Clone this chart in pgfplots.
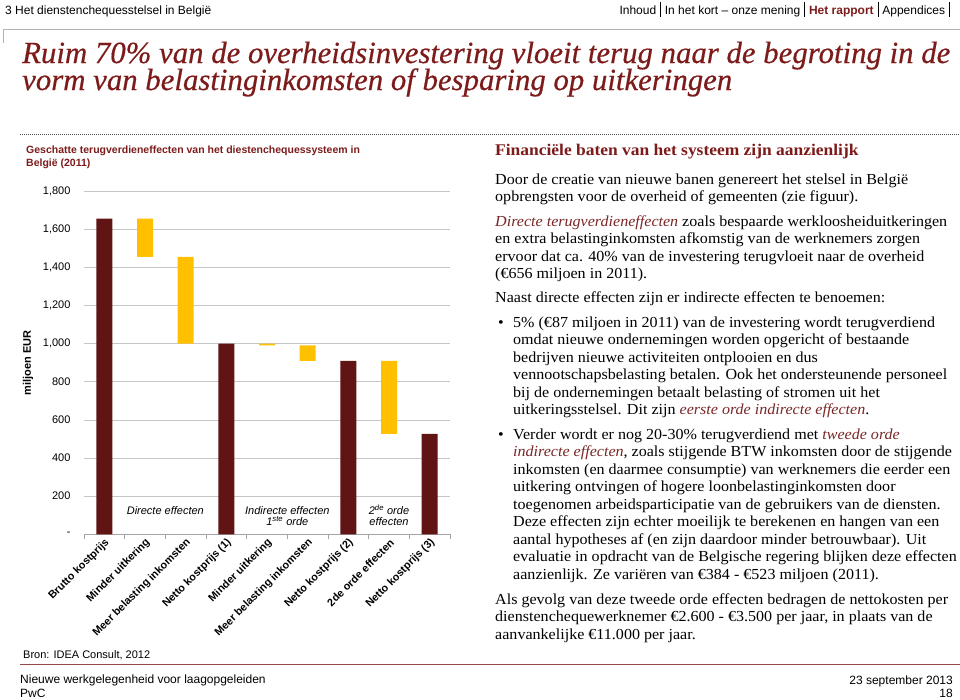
\documentclass[border=0pt]{standalone}
\usepackage{fontspec}
\setmainfont{Liberation Serif}
\setsansfont{Liberation Sans}
\newfontfamily\bodyfont[FakeStretch=1.05]{Liberation Serif}
\newfontfamily\headfont[FakeStretch=1.07]{Liberation Serif}
\newfontfamily\titlefont[FakeBold=0.5]{Liberation Serif}
\usepackage{pgfplots}
\pgfplotsset{compat=1.18}
\definecolor{pwcred}{RGB}{125,27,27}
\definecolor{barred}{RGB}{96,20,20}
\definecolor{baryellow}{RGB}{255,192,0}
\definecolor{hlred}{RGB}{122,38,38}
\newcommand{\bodyf}{\bodyfont\fontsize{15.3}{17}\selectfont}
\newcommand{\hsep}{\hspace{4pt}\rule[-3pt]{0.7pt}{15pt}\hspace{4pt}}
\newcommand{\hl}[1]{\textcolor{hlred}{\itshape #1}}
\begin{document}
\begin{tikzpicture}
\begin{scope}[x=1pt,y=-1pt,every node/.style={inner sep=0pt}]
\useasboundingbox (0,0) rectangle (960,699);
% header
\node[anchor=base west,font=\sffamily\fontsize{12}{14}\selectfont] at (5,14) {3 Het dienstenchequesstelsel in België};
\node[anchor=base east,font=\sffamily\fontsize{12}{14}\selectfont] at (950,14) {Inhoud\hsep In het kort – onze mening\hsep\textcolor{pwcred}{\bfseries Het rapport}\hsep Appendices\hsep};
\draw[gray!60,line width=0.7pt] (3,43) -- (3,29) -- (960,29);
% title
\node[anchor=base west,font=\titlefont\fontsize{30.8}{34}\selectfont\itshape,text=pwcred] at (22,63) {Ruim 70\% van de overheidsinvestering vloeit terug naar de begroting in de};
\node[anchor=base west,font=\titlefont\fontsize{30.8}{34}\selectfont\itshape,text=pwcred] at (22,90) {vorm van belastinginkomsten of besparing op uitkeringen};
% dotted line
\draw[black!70,line width=1pt,dash pattern=on 1pt off 1pt] (20,134) -- (960,134);
% chart title
\node[anchor=base west,font=\sffamily\bfseries\fontsize{10.5}{12}\selectfont,text=pwcred] at (26,153) {Geschatte terugverdieneffecten van het diestenchequessysteem in};
\node[anchor=base west,font=\sffamily\bfseries\fontsize{10.5}{12}\selectfont,text=pwcred] at (26,166) {België (2011)};
% source and footer
\node[anchor=base west,font=\sffamily\fontsize{11}{13}\selectfont] at (23,658) {Bron: IDEA Consult, 2012};
\draw[pwcred!80,line width=0.8pt] (20,664) -- (960,664);
\node[anchor=base west,font=\sffamily\fontsize{12}{14}\selectfont] at (20,683) {Nieuwe werkgelegenheid voor laagopgeleiden};
\node[anchor=base west,font=\sffamily\fontsize{12}{14}\selectfont] at (20,697) {PwC};
\node[anchor=base east,font=\sffamily\fontsize{12}{14}\selectfont] at (953,684) {23 september 2013};
\node[anchor=base east,font=\sffamily\fontsize{12}{14}\selectfont] at (953,697) {18};
% right column
\node[anchor=base west,font=\headfont\bfseries\fontsize{16.3}{18}\selectfont,text=pwcred] at (495,155) {Financiële baten van het systeem zijn aanzienlijk};
\begin{scope}[every node/.style={inner sep=0pt,anchor=base west,font=\bodyf}]
\node at (495,184) {Door de creatie van nieuwe banen genereert het stelsel in België};
\node at (495,201.5) {opbrengsten voor de overheid of gemeenten (zie figuur).};
\node at (495,226) {\hl{Directe terugverdieneffecten} zoals bespaarde werkloosheiduitkeringen};
\node at (495,243.5) {en extra belastinginkomsten afkomstig van de werknemers zorgen};
\node at (495,261) {ervoor dat ca. 40\% van de investering terugvloeit naar de overheid};
\node at (495,278) {(€656 miljoen in 2011).};
\node at (495,302) {Naast directe effecten zijn er indirecte effecten te benoemen:};
\node at (498,327) {•};
\node at (513,327) {5\% (€87 miljoen in 2011) van de investering wordt terugverdiend};
\node at (513,344.5) {omdat nieuwe ondernemingen worden opgericht of bestaande};
\node at (513,362) {bedrijven nieuwe activiteiten ontplooien en dus};
\node at (513,379.5) {vennootschapsbelasting betalen. Ook het ondersteunende personeel};
\node at (513,397) {bij de ondernemingen betaalt belasting of stromen uit het};
\node at (513,414.5) {uitkeringsstelsel. Dit zijn \hl{eerste orde indirecte effecten}.};
\node at (498,439) {•};
\node at (513,439) {Verder wordt er nog 20-30\% terugverdiend met \hl{tweede orde}};
\node at (513,456.5) {\hl{indirecte effecten}, zoals stijgende BTW inkomsten door de stijgende};
\node at (513,474) {inkomsten (en daarmee consumptie) van werknemers die eerder een};
\node at (513,491.5) {uitkering ontvingen of hogere loonbelastinginkomsten door};
\node at (513,509) {toegenomen arbeidsparticipatie van de gebruikers van de diensten.};
\node at (513,526.5) {Deze effecten zijn echter moeilijk te berekenen en hangen van een};
\node at (513,544) {aantal hypotheses af (en zijn daardoor minder betrouwbaar). Uit};
\node at (513,561.5) {evaluatie in opdracht van de Belgische regering blijken deze effecten};
\node at (513,579) {aanzienlijk. Ze variëren van €384 - €523 miljoen (2011).};
\node at (495,604) {Als gevolg van deze tweede orde effecten bedragen de nettokosten per};
\node at (495,621.5) {dienstenchequewerknemer €2.600 - €3.500 per jaar, in plaats van de};
\node at (495,639) {aanvankelijke €11.000 per jaar.};
\end{scope}
\end{scope}
\begin{axis}[
  at={(84pt,-534.3pt)}, anchor=south west,
  width=366pt, height=343.3pt, scale only axis,
  xmin=-0.5, xmax=8.5, ymin=0, ymax=1800,
  ybar stacked, bar width=16pt,
  axis x line*=bottom, axis y line*=left,
  y axis line style={draw=none},
  x axis line style={draw=gray!70, line width=0.7pt},
  ymajorgrids, grid style={draw=gray!45, line width=0.7pt},
  major tick length=0pt,
  ytick={0,200,...,1800},
  yticklabels={-,200,400,600,800,{1,000},{1,200},{1,400},{1,600},{1,800}},
  yticklabel style={font=\sffamily\fontsize{11}{13}\selectfont, anchor=east, xshift=-10pt},
  xtick={0,...,8},
  xticklabels={Brutto kostprijs, Minder uitkering, Meer belasting inkomsten, Netto kostprijs (1), Minder uitkering, Meer belasting inkomsten, Netto kostprijs (2), 2de orde effecten, Netto kostprijs (3)},
  xticklabel style={font=\sffamily\bfseries\fontsize{10.8}{12}\selectfont, rotate=45, anchor=east, yshift=-7pt, xshift=1pt},
  extra x ticks={-0.5,0.5,1.5,2.5,3.5,4.5,5.5,6.5,7.5,8.5},
  extra x tick labels={},
  extra x tick style={major tick length=5pt, tick align=outside, tick style={draw=gray!70, line width=0.7pt}},
  ylabel={miljoen EUR},
  ylabel style={font=\sffamily\bfseries\fontsize{11}{13}\selectfont, at={(axis description cs:-0.153,0.5)}, anchor=center, rotate=0},
  clip=false,
]
\addplot[draw=none, fill=none] coordinates {(0,0) (1,1455) (2,1000) (3,0) (4,990) (5,910) (6,0) (7,526) (8,0)};
\addplot[draw=none, fill=barred] coordinates {(0,1655) (1,0) (2,0) (3,1000) (4,0) (5,0) (6,910) (7,0) (8,526)};
\addplot[draw=none, fill=baryellow] coordinates {(0,0) (1,200) (2,455) (3,0) (4,10) (5,80) (6,0) (7,384) (8,0)};
\node[font=\sffamily\itshape\fontsize{11}{13}\selectfont, anchor=base] at (axis cs:1.5,106) {Directe effecten};
\node[font=\sffamily\itshape\fontsize{11}{13}\selectfont, anchor=base] at (axis cs:4.5,106) {Indirecte effecten};
\node[font=\sffamily\itshape\fontsize{11}{13}\selectfont, anchor=base] at (axis cs:4.5,48) {1\textsuperscript{ste} orde};
\node[font=\sffamily\itshape\fontsize{11}{13}\selectfont, anchor=base] at (axis cs:7,106) {2\textsuperscript{de} orde};
\node[font=\sffamily\itshape\fontsize{11}{13}\selectfont, anchor=base] at (axis cs:7,48) {effecten};
\end{axis}
\end{tikzpicture}
\end{document}
